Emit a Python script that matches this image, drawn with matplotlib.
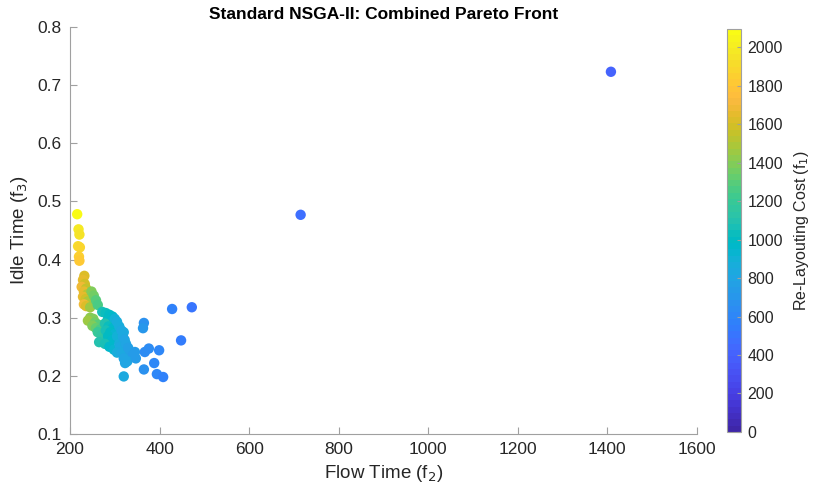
import numpy as np
import matplotlib
matplotlib.use("Agg")
import matplotlib.pyplot as plt
from matplotlib.colors import ListedColormap

plt.rcParams['font.family'] = ['Liberation Sans', 'DejaVu Sans']

# Pareto front solutions: flow time (f2), idle time (f3), re-layouting cost (f1)
flow_time = [
    216, 219, 221, 218, 222, 220, 221,
    232, 229, 233, 226, 236, 231, 238, 229, 235, 240, 231, 236, 245,
    248, 253, 258, 262, 245, 252, 240, 256, 263, 250, 258, 268, 262, 270, 275, 265,
    272, 280, 288, 295, 284, 292, 300, 278, 286, 296, 280, 290, 300, 285, 295, 278, 305, 288, 298, 310,
    300, 305, 310, 315, 320, 318, 322, 312, 325, 305, 315, 330, 335, 340, 320, 328, 323, 320,
    365, 363, 345, 347, 367, 376, 399, 388, 365, 394, 408, 428, 472, 448, 715, 1408,
]
idle_time = [
    0.478, 0.452, 0.443, 0.423, 0.421, 0.405, 0.398,
    0.372, 0.365, 0.358, 0.353, 0.350, 0.345, 0.340, 0.336, 0.332, 0.328, 0.323, 0.320, 0.318,
    0.345, 0.338, 0.330, 0.322, 0.300, 0.298, 0.295, 0.292, 0.288, 0.286, 0.282, 0.280, 0.275, 0.270, 0.262, 0.258,
    0.310, 0.308, 0.305, 0.302, 0.296, 0.293, 0.290, 0.290, 0.285, 0.282, 0.278, 0.275, 0.272, 0.268, 0.262, 0.255, 0.268, 0.250, 0.245, 0.255,
    0.298, 0.293, 0.285, 0.278, 0.275, 0.268, 0.262, 0.250, 0.255, 0.240, 0.240, 0.248, 0.240, 0.235, 0.230, 0.225, 0.222, 0.199,
    0.291, 0.282, 0.241, 0.230, 0.241, 0.247, 0.244, 0.222, 0.211, 0.203, 0.198, 0.315, 0.318, 0.261, 0.477, 0.723,
]
relayout_cost = [
    2080, 1980, 1950, 1900, 1870, 1850, 1830,
    1620, 1650, 1600, 1700, 1560, 1640, 1520, 1660, 1580, 1500, 1680, 1620, 1450,
    1380, 1350, 1300, 1260, 1420, 1400, 1440, 1350, 1300, 1380, 1320, 1250, 1200, 1150, 1120, 1100,
    1050, 1020, 990, 960, 1000, 950, 920, 1080, 1030, 960, 1050, 990, 930, 1000, 950, 1050, 900, 980, 920, 880,
    900, 880, 860, 840, 820, 830, 810, 850, 800, 870, 840, 780, 760, 750, 810, 790, 800, 820,
    680, 690, 720, 720, 650, 640, 600, 620, 660, 600, 580, 560, 520, 540, 480, 400,
]

x_ticks = [200, 400, 600, 800, 1000, 1200, 1400, 1600]
y_ticks = [0.1, 0.2, 0.3, 0.4, 0.5, 0.6, 0.7, 0.8]
cbar_ticks = [0, 200, 400, 600, 800, 1000, 1200, 1400, 1600, 1800, 2000]

# MATLAB-style parula colour map
parula_rgb = [
    (0.2422, 0.1504, 0.6603), (0.2504, 0.1650, 0.7076), (0.2578, 0.1818, 0.7511),
    (0.2647, 0.1978, 0.7952), (0.2706, 0.2147, 0.8364), (0.2751, 0.2342, 0.8710),
    (0.2783, 0.2559, 0.8991), (0.2803, 0.2782, 0.9221), (0.2813, 0.3006, 0.9414),
    (0.2810, 0.3228, 0.9579), (0.2795, 0.3447, 0.9717), (0.2760, 0.3667, 0.9829),
    (0.2699, 0.3892, 0.9906), (0.2602, 0.4123, 0.9952), (0.2440, 0.4358, 0.9988),
    (0.2206, 0.4603, 0.9973), (0.1963, 0.4847, 0.9892), (0.1834, 0.5074, 0.9798),
    (0.1786, 0.5289, 0.9682), (0.1764, 0.5499, 0.9520), (0.1687, 0.5703, 0.9359),
    (0.1540, 0.5902, 0.9218), (0.1460, 0.6091, 0.9079), (0.1380, 0.6276, 0.8973),
    (0.1248, 0.6459, 0.8883), (0.1113, 0.6635, 0.8763), (0.0952, 0.6798, 0.8598),
    (0.0689, 0.6948, 0.8394), (0.0297, 0.7082, 0.8163), (0.0036, 0.7203, 0.7917),
    (0.0067, 0.7312, 0.7660), (0.0433, 0.7411, 0.7394), (0.0964, 0.7500, 0.7120),
    (0.1408, 0.7584, 0.6842), (0.1717, 0.7670, 0.6554), (0.1938, 0.7758, 0.6251),
    (0.2161, 0.7843, 0.5923), (0.2470, 0.7918, 0.5567), (0.2906, 0.7973, 0.5188),
    (0.3406, 0.8008, 0.4789), (0.3909, 0.8029, 0.4354), (0.4456, 0.8024, 0.3909),
    (0.5044, 0.7993, 0.3480), (0.5616, 0.7942, 0.3045), (0.6174, 0.7876, 0.2612),
    (0.6720, 0.7793, 0.2227), (0.7242, 0.7698, 0.1910), (0.7738, 0.7598, 0.1646),
    (0.8203, 0.7498, 0.1535), (0.8634, 0.7406, 0.1596), (0.9035, 0.7330, 0.1774),
    (0.9393, 0.7288, 0.2100), (0.9728, 0.7298, 0.2394), (0.9956, 0.7434, 0.2371),
    (0.9970, 0.7659, 0.2199), (0.9952, 0.7893, 0.2028), (0.9892, 0.8136, 0.1885),
    (0.9786, 0.8386, 0.1766), (0.9676, 0.8639, 0.1643), (0.9610, 0.8890, 0.1537),
    (0.9597, 0.9135, 0.1423), (0.9628, 0.9373, 0.1265), (0.9691, 0.9606, 0.1064),
    (0.9769, 0.9839, 0.0805),
]
parula = ListedColormap(parula_rgb, name="parula")

text_color = "#262626"
axis_color = "#a0a0a0"

fig = plt.figure(figsize=(8.17, 4.91), dpi=100)
ax = fig.add_axes([0.0857, 0.1161, 0.7673, 0.8289])
cax = fig.add_axes([0.8895, 0.1202, 0.0171, 0.8208])

sc = ax.scatter(flow_time, idle_time, c=relayout_cost, cmap=parula,
                vmin=0, vmax=2094, s=56, linewidths=0, zorder=3)

ax.set_xlim(200, 1600)
ax.set_ylim(0.1, 0.8)
ax.set_xticks(x_ticks)
ax.set_yticks(y_ticks)
ax.set_yticklabels([f"{v:g}" for v in y_ticks])
for side in ("top", "right"):
    ax.spines[side].set_visible(False)
for side in ("left", "bottom"):
    ax.spines[side].set_color(axis_color)
    ax.spines[side].set_linewidth(0.8)
ax.tick_params(direction="in", length=5, width=0.8, color=axis_color,
               labelsize=12.5, labelcolor=text_color, pad=6)

ax.set_xlabel("Flow Time (f$_2$)", fontsize=13.5, color=text_color, labelpad=4)
ax.set_ylabel("Idle Time (f$_3$)", fontsize=13.5, color=text_color, labelpad=5)
ax.set_title("Standard NSGA-II: Combined Pareto Front", fontsize=12.5,
             fontweight="bold", color="black", pad=6)

cb = fig.colorbar(sc, cax=cax)
cb.set_ticks(cbar_ticks)
cb.outline.set_edgecolor(axis_color)
cb.outline.set_linewidth(0.8)
cax.tick_params(direction="in", length=3, width=0.8, color=axis_color,
                labelsize=11.5, labelcolor=text_color, pad=5)
cb.set_label("Re-Layouting Cost (f$_1$)", fontsize=11.5, color=text_color, labelpad=6)

fig.savefig("out.png", dpi=100)
